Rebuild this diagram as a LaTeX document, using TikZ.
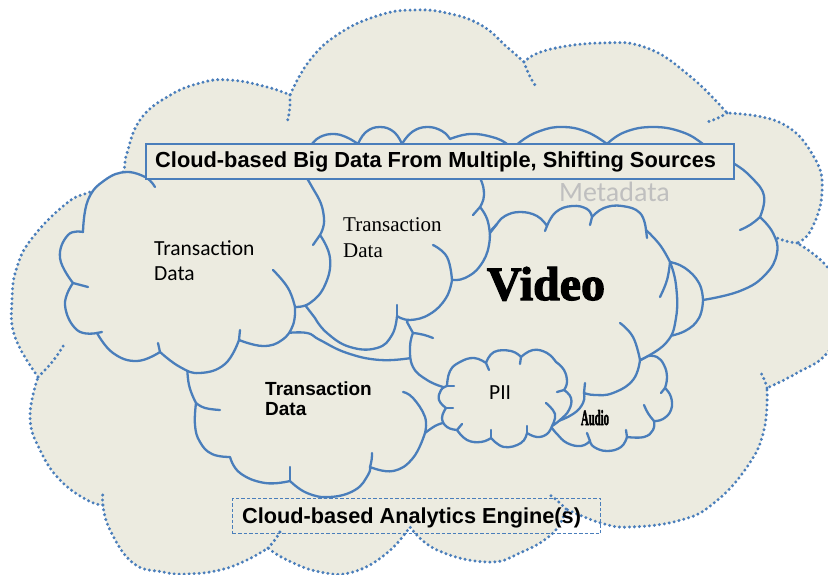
\documentclass[tikz,border=0pt]{standalone}
\usepackage{fontspec}
\usepackage{graphicx}
\newfontfamily\sansb{Liberation Sans}
\newfontfamily\calib{Carlito}
\newfontfamily\tserif{Liberation Serif}
\newfontfamily\vfont{Liberation Serif}[FakeBold=2.5]
\definecolor{cbeige}{HTML}{ECEBE0}
\definecolor{cblue}{HTML}{4A7EBB}
\definecolor{cgray}{HTML}{BFBFBF}
\begin{document}
\begin{tikzpicture}[x=1pt,y=-1pt,
  puff/.style={fill=cbeige, draw=cblue, line width=2.3pt, line join=round},
  hook/.style={draw=cblue, line width=2.3pt, line cap=round},
  dots/.style={draw=cblue, line width=3.3pt, dash pattern=on 0pt off 5pt, line cap=round},
  sm/.style={smooth, tension=0.75},
  txt/.style={anchor=base west, inner sep=0pt}]
\useasboundingbox (0,0) rectangle (828,575);
\clip (0,0) rectangle (828,575);
\fill[white] (0,0) rectangle (828,575);

% ---------- outer dotted cloud
\path[fill=cbeige, dots]
 plot[sm] coordinates {(38,377)(15,337)(12,300)(17,267)(33,237)(67,203)(90,192)(112,183)}
 -- plot[sm] coordinates {(112,183)(123,172)(127,153)(140,120)(167,97)(200,83)(230,80)(267,87)(290,95)}
 -- plot[sm] coordinates {(290,95)(310,60)(340,33)(380,15)(414,10)(447,13)(481,25)(507,47)(524,62)}
 -- plot[sm] coordinates {(524,62)(547,50)(601,43)(647,48)(691,77)(727,113)}
 -- plot[sm] coordinates {(727,113)(781,123)(814,157)(822,193)(811,230)(797,243)}
 -- plot[sm] coordinates {(797,243)(828,268)(848,310)(828,352)(797,373)(767,388)}
 -- plot[sm] coordinates {(767,388)(764,430)(747,467)(714,503)(681,520)(631,527)(601,523)(566,509)}
 -- plot[sm] coordinates {(566,509)(553,533)(520,553)(487,562)(437,550)(410,527)}
 -- plot[sm] coordinates {(410,527)(387,553)(353,572)(320,572)(287,560)(268,548)}
 -- plot[sm] coordinates {(268,548)(247,560)(220,570)(187,574)(163,572)(133,563)(110,530)(103,505)}
 -- plot[sm] coordinates {(103,505)(87,500)(60,480)(40,450)(30,417)(38,377)}
 -- cycle;
\draw[dots] (38,377) to[bend right=8] (65,343);
\draw[dots] (290,95) to[bend left=8] (287,123);
\draw[dots] (524,62) to[bend right=8] (537,88);
\draw[dots] (727,113) to[bend left=8] (707,122);
\draw[dots] (797,243) to[bend left=8] (777,238);
\draw[dots] (767,388) to[bend right=8] (761,373);
\draw[dots] (566,509) to[bend right=6] (547,493);
\draw[dots] (268,548) to[bend right=8] (282,528);
\draw[dots] (103,505) to[bend left=8] (103,492);

% ---------- TD3 (bold transaction data)
\path[puff]
 plot[sm] coordinates {(196,403)(195,425)(200,442)(212,454)(230,457)}
 -- plot[sm] coordinates {(230,457)(240,473)(265,483)(290,481)}
 -- plot[sm] coordinates {(290,481)(307,493)(330,497)(355,490)(368,475)(370,467)}
 -- plot[sm] coordinates {(370,467)(393,471)(413,458)(425,433)}
 -- plot[sm] coordinates {(425,433)(435,426)(443,423)}
 -- (455,410) -- (455,387) -- (440,375) -- (420,345) -- (395,345) -- (330,335) -- (285,320) -- (250,330) -- (200,352) -- (187,362)
 -- plot[sm] coordinates {(187,362)(189,385)(196,403)} -- cycle;
\draw[hook] plot[sm] coordinates {(196,403)(205,408)(220,410)};
\draw[hook] (290,481) -- (290,467);
\draw[hook] (370,467) to[bend right=8] (372,453);
\draw[hook] plot[sm] coordinates {(425,433)(425,417)(413,398)(403,392)};

% ---------- Metadata cloud
\path[puff]
 plot[sm] coordinates {(312,144)(320,137)(333,134)(346,137)(358,144)}
 -- plot[sm] coordinates {(358,144)(366,132)(380,127)(394,132)(402,144)}
 -- plot[sm] coordinates {(402,144)(412,132)(427,127)(442,131)(450,139)}
 -- plot[sm] coordinates {(450,139)(470,134)(492,137)(507,144)(512,152)}
 -- plot[sm] coordinates {(512,152)(520,142)(540,131)(563,127)(587,132)(607,144)}
 -- plot[sm] coordinates {(607,144)(625,132)(653,127)(682,132)(703,144)(710,152)}
 -- plot[sm] coordinates {(710,152)(733,163)(752,178)(764,196)(760,217)}
 -- plot[sm] coordinates {(760,217)(773,233)(777,253)(765,275)(740,291)(703,300)}
 -- plot[sm] coordinates {(703,300)(699,318)(685,331)(665,337)}
 -- (620,350) -- (560,372) -- (470,368) -- (430,365) -- (411,358)
 -- plot[sm] coordinates {(411,358)(380,360)(347,353)(320,340)(307,333)(287,333)}
 -- (270,300) -- (280,230) -- (300,165) -- cycle;
\draw[hook] (760,217) to[bend left=10] (740,230);
\draw[hook] plot[sm] coordinates {(670,262)(685,268)(699,283)(703,300)};

% ---------- Audio cloud
\path[puff]
 plot[sm] coordinates {(648,356)(657,357)(664,365)(667,377)(665,388)}
 -- plot[sm] coordinates {(665,388)(671,397)(671,410)(663,419)(654,421)}
 -- plot[sm] coordinates {(654,421)(653,430)(644,437)(627,437)}
 -- plot[sm] coordinates {(627,437)(621,447)(607,451)(594,447)(590,441)}
 -- plot[sm] coordinates {(590,441)(581,446)(567,443)(557,434)(552,428)}
 -- (545,412) -- (560,395) -- (578,388) -- (610,380) -- (632,365) -- cycle;
\draw[hook] (665,388) -- (661,393);
\draw[hook] (654,421) to[bend left=10] (644,405);
\draw[hook] (627,437) -- (626,430);
\draw[hook] (590,441) -- (587,433);

% ---------- Video cloud
\path[puff]
 plot[sm] coordinates {(497,224)(505,216)(520,212)(537,216)(547,226)}
 -- plot[sm] coordinates {(547,226)(556,212)(572,206)(587,209)(592,217)}
 -- plot[sm] coordinates {(592,217)(604,208)(622,206)(640,213)(646,230)}
 -- plot[sm] coordinates {(646,230)(660,245)(670,262)}
 -- plot[sm] coordinates {(670,262)(676,285)(676,318)(666,343)(640,360)}
 -- plot[sm] coordinates {(640,360)(633,380)(613,393)(595,395)(584,393)}
 -- plot[sm] coordinates {(584,393)(583,403)(573,414)(553,423)(535,428)}
 -- (500,420) -- (470,405) -- (450,392)
 -- plot[sm] coordinates {(443,387)(427,380)(413,367)(410,347)(413,333)}
 -- (407,322) -- (415,305) -- (440,285) -- (470,260) -- (482,240) -- cycle;
\draw[hook] (497,224) -- (490,233);
\draw[hook] (547,226) -- (545,231);
\draw[hook] (592,217) -- (590,225);
\draw[hook] (646,230) -- (647,238);
\draw[hook] plot[sm] coordinates {(670,262)(667,280)(660,297)};
\draw[hook] plot[sm] coordinates {(640,360)(633,337)(620,323)};
\draw[hook] (584,393) -- (585,383);
\draw[hook] (413,333) to[bend left=8] (433,338);

% ---------- TD2 (serif transaction data)
\path[puff]
 plot[sm] coordinates {(295,172)(330,158)(380,152)(430,152)(468,162)(480,178)(484,195)(480,207)}
 -- plot[sm] coordinates {(480,207)(488,222)(489,245)(480,266)(465,278)(452,280)}
 -- plot[sm] coordinates {(452,280)(446,298)(430,314)(410,320)(397,316)}
 -- plot[sm] coordinates {(397,316)(392,335)(377,348)(350,347)(327,333)(315,318)}
 -- (305,305) -- (300,290) -- (300,230) -- (295,190) -- cycle;
\draw[hook] (480,207) -- (473,215);
\draw[hook] plot[sm] coordinates {(452,280)(447,257)(433,245)};
\draw[hook] (397,316) -- (397,305);

% ---------- TD1 (left transaction data)
\path[puff]
 plot[sm] coordinates {(83,232)(88,200)(105,180)(127,172)(147,178)}
 -- plot[sm] coordinates {(147,178)(180,158)(240,150)(290,163)(315,192)(324,218)(320,235)}
 -- plot[sm] coordinates {(320,235)(330,258)(325,285)(310,303)(295,307)}
 -- plot[sm] coordinates {(295,307)(293,325)(282,340)(263,346)(239,340)}
 -- plot[sm] coordinates {(239,340)(225,364)(200,373)(180,367)(160,352)}
 -- plot[sm] coordinates {(160,352)(137,361)(113,353)(97,333)}
 -- plot[sm] coordinates {(97,333)(77,330)(65,305)(73,283)}
 -- plot[sm] coordinates {(73,283)(60,258)(68,235)(83,232)} -- cycle;
\draw[hook] (147,178) to[bend left=10] (155,187);
\draw[hook] (320,235) -- (313,245);
\draw[hook] plot[sm] coordinates {(295,307)(288,288)(273,270)};
\draw[hook] (239,340) -- (240,330);
\draw[hook] (160,352) -- (158,343);
\draw[hook] (97,333) -- (102,332);
\draw[hook] (73,283) -- (88,287);

% ---------- PII cloud
\path[puff]
 plot[sm] coordinates {(447,386)(450,371)(460,362)(474,358)(486,363)}
 -- plot[sm] coordinates {(486,363)(494,352)(511,351)(521,357)}
 -- plot[sm] coordinates {(521,357)(533,350)(547,353)(556,362)}
 -- plot[sm] coordinates {(556,362)(564,370)(567,382)(564,390)}
 -- plot[sm] coordinates {(564,390)(571,398)(569,410)(560,420)(552,426)}
 -- plot[sm] coordinates {(552,426)(547,434)(537,437)(527,433)}
 -- plot[sm] coordinates {(527,433)(521,443)(504,447)(491,438)}
 -- plot[sm] coordinates {(491,438)(481,442)(467,440)(457,430)}
 -- plot[sm] coordinates {(457,430)(447,427)(442,418)(446,408)}
 -- plot[sm] coordinates {(446,408)(439,400)(441,390)(447,386)} -- cycle;
\draw[hook] (486,363) -- (489,370);
\draw[hook] (521,357) -- (520,364);
\draw[hook] (564,390) -- (557,392);
\draw[hook] plot[sm] coordinates {(552,426)(555,414)(546,403)};
\draw[hook] (527,433) -- (527,426);
\draw[hook] (491,438) -- (491,430);
\draw[hook] (457,430) -- (462,424);
\draw[hook] (446,408) -- (453,408);
\draw[hook] (447,386) -- (454,386);

% ---------- boxes
\node[draw=cblue, fill=cbeige, line width=1.8pt, anchor=north west, inner sep=0pt,
      minimum width=588pt, minimum height=35pt] (titlebox) at (145,143) {};
\node[txt, font=\sansb\bfseries\fontsize{21.8}{26}\selectfont] (titletext) at (155,168)
  {Cloud-based Big Data From Multiple, Shifting Sources};
\node[draw=cblue, line width=1.1pt, dash pattern=on 3.5pt off 2pt, anchor=north west, inner sep=0pt,
      minimum width=368pt, minimum height=35pt] (enginebox) at (232,498) {};
\node[txt, font=\sansb\bfseries\fontsize{21.7}{26}\selectfont] (enginetext) at (242,523)
  {Cloud-based Analytics Engine(s)};

% ---------- labels
\node[txt, text=cgray, font=\calib\fontsize{28}{32}\selectfont] (meta) at (559,202) {Metadata};
\node[txt, font=\calib\fontsize{21.5}{25}\selectfont] (td1text) at (154,255)
  {\begin{tabular}[t]{@{}l@{}}Transaction\\Data\end{tabular}};
\node[txt, font=\tserif\fontsize{21}{26}\selectfont] (td2text) at (343,231)
  {\begin{tabular}[t]{@{}l@{}}Transaction\\Data\end{tabular}};
\node[txt, font=\sansb\bfseries\fontsize{19}{20}\selectfont] (td3text) at (265,395)
  {\begin{tabular}[t]{@{}l@{}}Transaction\\Data\end{tabular}};
\node[anchor=base, inner sep=0pt] (videotext) at (546,300) {\resizebox{118pt}{33pt}{\vfont\bfseries Video}};
\node[txt, font=\calib\fontsize{21.5}{25}\selectfont] (piitext) at (489,399) {PII};
\node[anchor=base, inner sep=0pt] (audiotext) at (595,425) {\resizebox{28pt}{15pt}{\vfont\bfseries Audio}};
\end{tikzpicture}
\end{document}
